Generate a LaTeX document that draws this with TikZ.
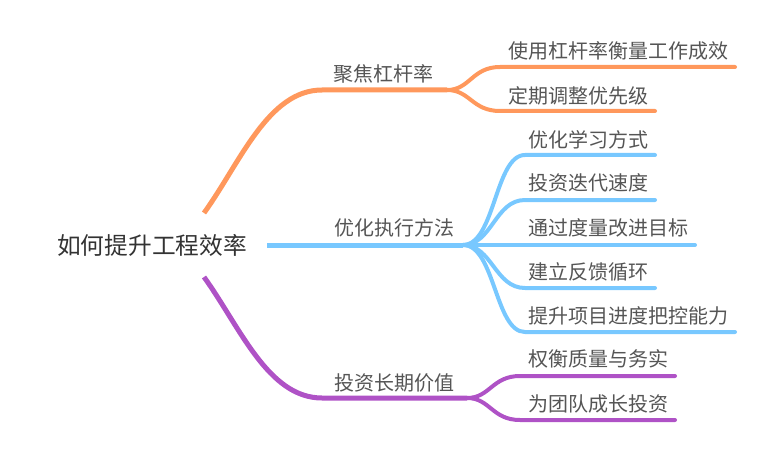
\documentclass[tikz,border=0pt]{standalone}
\usepackage{fontspec}
\setmainfont{Noto Sans CJK SC}
\definecolor{orangeb}{RGB}{255,152,92}
\definecolor{blueb}{RGB}{120,200,255}
\definecolor{purpleb}{RGB}{175,82,198}
\definecolor{txt}{RGB}{85,85,85}
\definecolor{roottxt}{RGB}{51,51,51}
\tikzset{
  lbl/.style={anchor=west,inner sep=0pt,text=txt,font=\fontsize{20}{21}\selectfont},
  rootlbl/.style={anchor=west,inner sep=0pt,text=roottxt,font=\fontsize{23.7}{24}\selectfont},
  mainline/.style={line width=5pt},
  subline/.style={line width=4pt,line cap=round},
}
\begin{document}
\begin{tikzpicture}[x=1pt,y=-1pt]
\useasboundingbox (0,0) rectangle (770,457);
% root
\node[rootlbl] (root) at (57,245) {如何提升工程效率};
% branch labels
\node[lbl] (b1) at (333,74) {聚焦杠杆率};
\node[lbl] (b2) at (334,228) {优化执行方法};
\node[lbl] (b3) at (334,383) {投资长期价值};
% children
\node[lbl] (c11) at (508,51) {使用杠杆率衡量工作成效};
\node[lbl] (c12) at (508,96) {定期调整优先级};
\node[lbl] (c21) at (528,140) {优化学习方式};
\node[lbl] (c22) at (528,183) {投资迭代速度};
\node[lbl] (c23) at (528,228) {通过度量改进目标};
\node[lbl] (c24) at (528,272) {建立反馈循环};
\node[lbl] (c25) at (528,316) {提升项目进度把控能力};
\node[lbl] (c31) at (528,359) {权衡质量与务实};
\node[lbl] (c32) at (528,404) {为团队成长投资};
% coordinates
\coordinate (o0) at (204,213);
\coordinate (o1) at (322,90);
\coordinate (of) at (447,90);
\coordinate (o11) at (735,67);
\coordinate (o12) at (655,111);
\coordinate (p0) at (204,277);
\coordinate (p1) at (322,398);
\coordinate (pf) at (467,398);
\coordinate (p31) at (675,376);
\coordinate (p32) at (675,420);
\coordinate (u0) at (267,245);
\coordinate (uf) at (463,245);
\coordinate (u21) at (655,155);
\coordinate (u22) at (655,200);
\coordinate (u23) at (695,245);
\coordinate (u24) at (655,288);
\coordinate (u25) at (735,332);
% orange
\draw[orangeb,mainline] (o0) .. controls (240,163) and (268,90) .. (o1) -- (of);
\draw[orangeb,subline] (of) .. controls (470,90) and (472,67) .. (500,67) -- (o11);
\draw[orangeb,subline] (of) .. controls (470,90) and (472,111) .. (500,111) -- (o12);
% blue
\draw[blueb,mainline] (u0) -- (uf);
\draw[blueb,subline] (uf) .. controls (495,245) and (495,155) .. (525,155) -- (u21);
\draw[blueb,subline] (uf) .. controls (492,245) and (495,200) .. (525,200) -- (u22);
\draw[blueb,subline] (uf) -- (u23);
\draw[blueb,subline] (uf) .. controls (492,245) and (495,288) .. (525,288) -- (u24);
\draw[blueb,subline] (uf) .. controls (495,245) and (495,332) .. (525,332) -- (u25);
% purple
\draw[purpleb,mainline] (p0) .. controls (240,327) and (268,398) .. (p1) -- (pf);
\draw[purpleb,subline] (pf) .. controls (490,398) and (492,376) .. (520,376) -- (p31);
\draw[purpleb,subline] (pf) .. controls (490,398) and (492,420) .. (520,420) -- (p32);
\end{tikzpicture}
\end{document}
